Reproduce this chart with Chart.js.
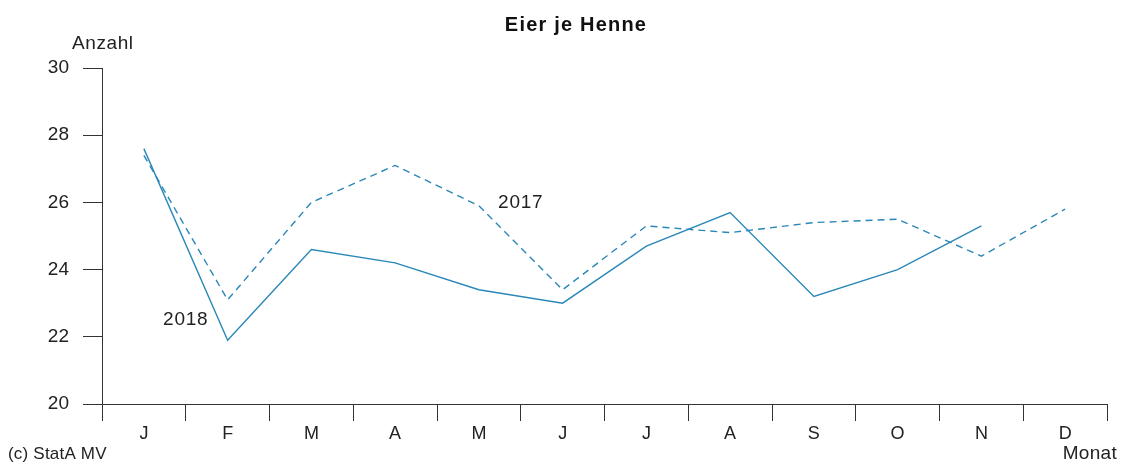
<!DOCTYPE html>
<html><head><meta charset="utf-8">
<script src="https://cdn.jsdelivr.net/npm/chart.js@4"></script>
<style>html,body{margin:0;padding:0;background:#fff}#wrap{width:1129px;height:463px;position:relative}</style>
</head><body><div id="wrap"><canvas id="c"></canvas></div>
<script>
const months = ['J','F','M','A','M','J','J','A','S','O','N','D'];
const values2018 = [27.6,21.9,24.6,24.2,23.4,23.0,24.7,25.7,23.2,24.0,25.3,null];
const values2017 = [27.4,23.1,26.0,27.1,25.9,23.4,25.3,25.1,25.4,25.5,24.4,25.8];
const yTicks = [20,22,24,26,28,30];
const seriesLabels = [{text:'2017', x:4.5, y:26.0},{text:'2018', x:0.5, y:22.5}];

const FONT = '"Liberation Sans", Arial, sans-serif';
const COLOR = '#2a88b8';
const AXIS = '#333333';

function txt(ctx, s, x, y, sp){
  if ('letterSpacing' in ctx) { ctx.letterSpacing = sp + 'px'; }
  ctx.fillText(s, x, y);
  if ('letterSpacing' in ctx) { ctx.letterSpacing = '0px'; }
}

const textPlugin = {
  id:'texts',
  afterDraw(chart){
    const ctx = chart.ctx, xs = chart.scales.x, ys = chart.scales.y;
    ctx.save();
    ctx.fillStyle = '#111';
    ctx.font = 'bold 20px ' + FONT;
    ctx.textAlign='center'; ctx.textBaseline='middle';
    txt(ctx, 'Eier je Henne', 576, 25, 1.2);
    ctx.fillStyle = '#222';
    ctx.textAlign='left';
    ctx.font = '19px ' + FONT;
    txt(ctx, 'Anzahl', 72, 44, 0.6);
    ctx.font = '17px ' + FONT;
    txt(ctx, '(c) StatA MV', 8, 454, 0.2);
    ctx.font = '19px ' + FONT;
    ctx.textAlign='right';
    txt(ctx, 'Monat', 1117, 454, 0.3);
    ctx.font = '19px ' + FONT;
    ctx.textAlign='center';
    seriesLabels.forEach(l=>{
      const px = xs.getPixelForValue(l.x);
      const py = ys.getPixelForValue(l.y);
      txt(ctx, l.text, px, py, 0.8);
    });
    ctx.restore();
  }
};

new Chart(document.getElementById('c'), {
  type:'line',
  data:{
    labels: months,
    datasets:[
      {label:'2018', data: values2018, borderColor: COLOR, borderWidth:1.4, pointRadius:0, tension:0, fill:false},
      {label:'2017', data: values2017, borderColor: COLOR, borderWidth:1.4, borderDash:[7,5], pointRadius:0, tension:0, fill:false}
    ]
  },
  options:{
    responsive:true, maintainAspectRatio:false, animation:false,
    layout:{padding:{left:0, right:22, top:68, bottom:19}},
    plugins:{legend:{display:false}, tooltip:{enabled:false}, title:{display:false}},
    scales:{
      x:{
        offset:true,
        grid:{offset:true, drawOnChartArea:false, drawTicks:true, tickLength:17, color:AXIS, lineWidth:1},
        border:{display:true, color:AXIS, width:1},
        ticks:{color:'#222', font:{family:FONT, size:18}, padding:2, maxRotation:0, autoSkip:false},
        afterFit(s){ s.height = 40; }
      },
      y:{
        min:20, max:30,
        afterBuildTicks(s){ s.ticks = yTicks.map(v=>({value:v})); },
        grid:{drawOnChartArea:false, drawTicks:true, tickLength:19, color:AXIS, lineWidth:1},
        border:{display:true, color:AXIS, width:1},
        ticks:{color:'#222', font:{family:FONT, size:19}, padding:14},
        afterFit(s){ s.width = 102; }
      }
    }
  },
  plugins:[textPlugin]
});
</script></body></html>
